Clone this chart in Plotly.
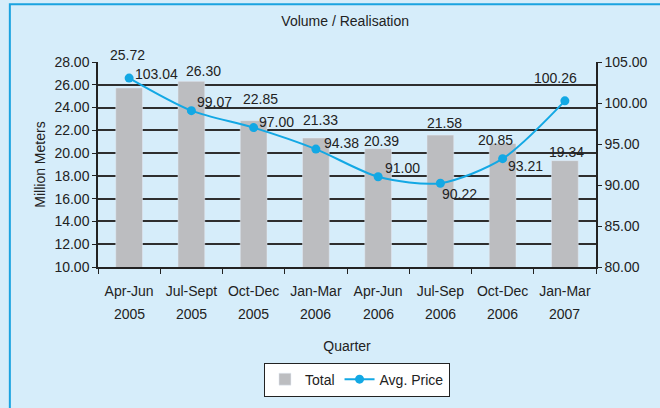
import plotly.graph_objects as go

categories = ["Apr-Jun 2005", "Jul-Sept 2005", "Oct-Dec 2005", "Jan-Mar 2006",
              "Apr-Jun 2006", "Jul-Sep 2006", "Oct-Dec 2006", "Jan-Mar 2007"]
quarter_labels = ["Apr-Jun", "Jul-Sept", "Oct-Dec", "Jan-Mar", "Apr-Jun", "Jul-Sep", "Oct-Dec", "Jan-Mar"]
year_labels = ["2005", "2005", "2005", "2006", "2006", "2006", "2006", "2007"]
total = [25.72, 26.30, 22.85, 21.33, 20.39, 21.58, 20.85, 19.34]
avg_price = [103.04, 99.07, 97.00, 94.38, 91.00, 90.22, 93.21, 100.26]

FONT = "Liberation Sans, Arial, sans-serif"
BG = "#d6edfa"
BAR = "#bcbdc0"
LINE = "#13a8e4"
TXT = "#222"

# label offsets (pixels) for readability, as in the original
bar_lab_shift = [(-2, 23), (12, 0), (7, 12), (5, 8), (3, -2), (4, 2), (-7, -7), (2, -1)]
line_lab_shift = [(27, 4), (23, 9), (23, 6), (26, 6), (24, 9), (19, -11), (23, -7), (-9, 23)]

fig = go.Figure()
fig.add_trace(go.Bar(x=categories, y=total, name="Total", marker_color=BAR,
                     width=0.43, yaxis="y"))
fig.add_trace(go.Scatter(x=categories, y=avg_price, name="Avg. Price", mode="lines+markers",
                         line=dict(color=LINE, width=2, shape="spline", smoothing=0.8),
                         marker=dict(size=9, color=LINE), yaxis="y2"))

ann = []
for c, v, (dx, dy) in zip(categories, total, bar_lab_shift):
    ann.append(dict(x=c, y=v, xref="x", yref="y", text=f"{v:.2f}", showarrow=False,
                    yanchor="bottom", xshift=dx, yshift=dy, font=dict(size=14, color=TXT)))
for c, v, (dx, dy) in zip(categories, avg_price, line_lab_shift):
    ann.append(dict(x=c, y=v, xref="x", yref="y2", text=f"{v:.2f}", showarrow=False,
                    xshift=dx, yshift=dy, font=dict(size=14, color=TXT)))
for c, yr in zip(categories, year_labels):
    ann.append(dict(x=c, y=0, xref="x", yref="paper", text=yr, showarrow=False,
                    yanchor="middle", yshift=-47, font=dict(size=14, color=TXT)))

fig.update_layout(
    width=660, height=408,
    margin=dict(l=98, r=54, t=62, b=140),
    paper_bgcolor=BG, plot_bgcolor=BG,
    font=dict(family=FONT, size=13, color=TXT),
    title=dict(text="Volume / Realisation", x=0.523, xanchor="center", y=0.949, yanchor="middle",
               font=dict(size=14, color=TXT)),
    showlegend=True,
    legend=dict(orientation="h", x=0.52, xanchor="center", y=-0.549, yanchor="middle",
                bgcolor="white", bordercolor=TXT, borderwidth=1,
                font=dict(size=14, color=TXT)),
    bargap=0.5,
    xaxis=dict(showline=True, linecolor=TXT, linewidth=1.5, ticks="outside",
               tickson="boundaries", ticklen=5, tickcolor=TXT,
               tickvals=categories, ticktext=quarter_labels, ticklabelstandoff=10,
               tickfont=dict(size=14),
               title=dict(text="Quarter", font=dict(size=14), standoff=44)),
    yaxis=dict(range=[10, 28], dtick=2, tickformat=".2f", showline=True, linecolor=TXT,
               linewidth=1.5, ticks="outside", ticklen=4, tickcolor=TXT,
               showgrid=True, gridcolor="#2e2e2e", gridwidth=1.6, zeroline=False,
               tickfont=dict(size=14),
               title=dict(text="Million Meters", font=dict(size=14), standoff=6)),
    yaxis2=dict(range=[80, 105], dtick=5, tickformat=".2f", overlaying="y", side="right",
                showline=True, linecolor=TXT, linewidth=1.5, ticks="outside", ticklen=4,
                tickcolor=TXT, showgrid=False, zeroline=False, tickfont=dict(size=14)),
    annotations=ann,
    shapes=[dict(type="rect", xref="paper", yref="paper", x0=-0.177, x1=1.3, y0=-1.0, y1=1.2816,
                 line=dict(color="#1aa3e0", width=2), fillcolor="rgba(0,0,0,0)", layer="below")],
)

fig.write_html("out.html", config={"displayModeBar": False},
               post_script="document.body.style.margin='0';document.body.style.overflow='hidden';")
